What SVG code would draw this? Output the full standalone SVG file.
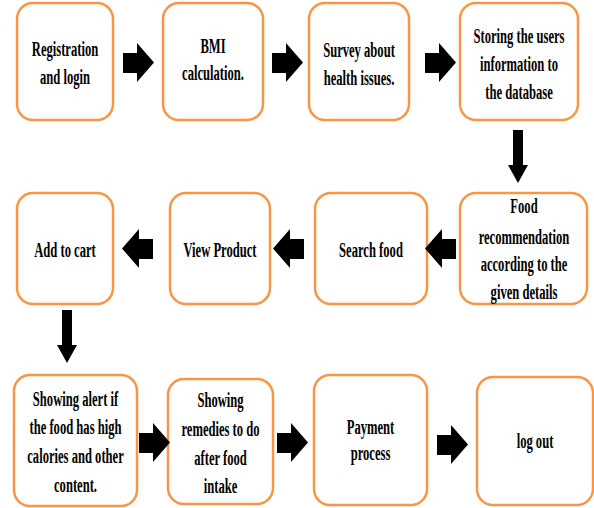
<svg xmlns="http://www.w3.org/2000/svg" width="594" height="508" viewBox="0 0 594 508">
<style>
.box{fill:#fff;stroke:#F79646;stroke-width:2.5}
.t{font-family:"Liberation Serif","Times New Roman",serif;font-weight:bold;font-size:20px;text-anchor:middle;fill:#000}
.arr{fill:#000}
</style>
<defs>
<path id="ar" d="M0,10 H14 V0 L31,19.5 L14,39 V30 H0 Z"/>
<path id="al" d="M31,10 H17 V0 L0,19.5 L17,39 V30 H31 Z"/>
<path id="ad" d="M5,0 H15 V35 H20 L10,53 L0,35 H5 Z"/>
</defs>
<rect width="594" height="508" fill="#fff"/>
<g id="n1"><rect class="box" x="17" y="3" width="96" height="117" rx="16"/>
<text class="t" transform="translate(65,56) scale(0.63,1)">Registration</text>
<text class="t" transform="translate(65,84) scale(0.63,1)">and login</text></g>
<g id="n2"><rect class="box" x="163" y="3" width="100" height="117" rx="16"/>
<text class="t" transform="translate(213,53) scale(0.63,1)">BMI</text>
<text class="t" transform="translate(213,80) scale(0.63,1)">calculation.</text></g>
<g id="n3"><rect class="box" x="309" y="3" width="100" height="117" rx="16"/>
<text class="t" transform="translate(359,57) scale(0.63,1)">Survey about</text>
<text class="t" transform="translate(359,85) scale(0.63,1)">health issues.</text></g>
<g id="n4"><rect class="box" x="460" y="3" width="118" height="117" rx="16"/>
<text class="t" transform="translate(519,43) scale(0.63,1)">Storing the users</text>
<text class="t" transform="translate(519,71) scale(0.63,1)">information to</text>
<text class="t" transform="translate(519,99) scale(0.63,1)">the database</text></g>
<g id="n5"><rect class="box" x="460" y="193" width="127" height="111" rx="16"/>
<text class="t" transform="translate(524,213) scale(0.63,1)">Food</text>
<text class="t" transform="translate(524,244) scale(0.63,1)">recommendation</text>
<text class="t" transform="translate(524,271) scale(0.63,1)">according to the</text>
<text class="t" transform="translate(524,299) scale(0.63,1)">given details</text></g>
<g id="n6"><rect class="box" x="315" y="193" width="112" height="111" rx="16"/>
<text class="t" transform="translate(371,257) scale(0.63,1)">Search  food</text></g>
<g id="n7"><rect class="box" x="170" y="193" width="100" height="111" rx="16"/>
<text class="t" transform="translate(220,257) scale(0.63,1)">View Product</text></g>
<g id="n8"><rect class="box" x="17" y="193" width="96" height="111" rx="16"/>
<text class="t" transform="translate(65,257) scale(0.63,1)">Add to cart</text></g>
<g id="n9"><rect class="box" x="14" y="375" width="123" height="131" rx="16"/>
<text class="t" transform="translate(75.5,406) scale(0.63,1)">Showing alert if</text>
<text class="t" transform="translate(75.5,434) scale(0.63,1)">the food has high</text>
<text class="t" transform="translate(75.5,463) scale(0.63,1)">calories and other</text>
<text class="t" transform="translate(75.5,492) scale(0.63,1)">content.</text></g>
<g id="n10"><rect class="box" x="168" y="379" width="105" height="125" rx="16"/>
<text class="t" transform="translate(220.5,407) scale(0.63,1)">Showing</text>
<text class="t" transform="translate(220.5,436) scale(0.63,1)">remedies to do</text>
<text class="t" transform="translate(220.5,465) scale(0.63,1)">after food</text>
<text class="t" transform="translate(220.5,493) scale(0.63,1)">intake</text></g>
<g id="n11"><rect class="box" x="314" y="375" width="113" height="130" rx="16"/>
<text class="t" transform="translate(370.5,434) scale(0.63,1)">Payment</text>
<text class="t" transform="translate(370.5,460) scale(0.63,1)">process</text></g>
<g id="n12"><rect class="box" x="477" y="377" width="116" height="128" rx="16"/>
<text class="t" transform="translate(535,448) scale(0.63,1)">log out</text></g>
<g id="connectors" class="arr">
<use href="#ar" x="123" y="43"/>
<use href="#ar" x="272" y="43"/>
<use href="#ar" x="425" y="43"/>
<use href="#ad" x="508" y="130"/>
<use href="#al" x="425" y="229"/>
<use href="#al" x="273" y="229"/>
<use href="#al" x="122" y="229"/>
<use href="#ad" x="57" y="310"/>
<use href="#ar" x="139" y="423"/>
<use href="#ar" x="277" y="423"/>
<use href="#ar" x="437" y="425"/>
</g>
</svg>
